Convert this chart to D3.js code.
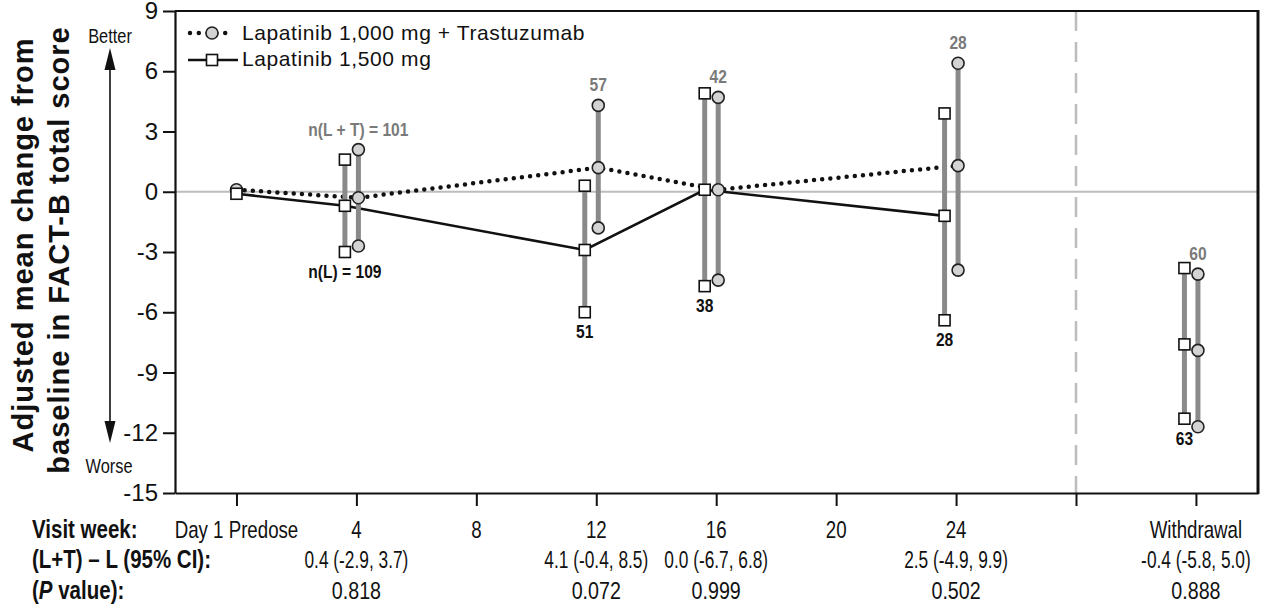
<!DOCTYPE html>
<html>
<head>
<meta charset="utf-8">
<script src="https://cdn.jsdelivr.net/npm/d3@7"></script>
<style>
  body { margin: 0; background: #fff; }
  svg { display: block; }
</style>
</head>
<body>
<svg class="chart"></svg>
<script>
// weeks: 0 = Day 1 predose, 32 = withdrawal slot (after the break at 28)
var visitWeeks = [0, 4, 12, 16, 24, 32];
var tickWeeks = [0, 4, 8, 12, 16, 20, 24, 28, 32];
var tickLabels = ["Day 1 Predose", "4", "8", "12", "16", "20", "24", "", "Withdrawal"];
var yTicks = [9, 6, 3, 0, -3, -6, -9, -12, -15];

// Lapatinib 1,000 mg + Trastuzumab (circles)
var ltMean  = [0.1, -0.3, 1.2, 0.1, 1.3, -7.9];
var ltLower = [null, -2.7, -1.8, -4.4, -3.9, -11.7];
var ltUpper = [null, 2.1, 4.3, 4.7, 6.4, -4.1];
var ltN     = [null, "n(L + T) = 101", "57", "42", "28", "60"];

// Lapatinib 1,500 mg (squares)
var lMean  = [-0.1, -0.7, -2.9, 0.1, -1.2, -7.6];
var lLower = [null, -3.0, -6.0, -4.7, -6.4, -11.3];
var lUpper = [null, 1.6, 0.3, 4.9, 3.9, -3.8];
var lN     = [null, "n(L) = 109", "51", "38", "28", "63"];

var diffWeeks = [4, 12, 16, 24, 32];
var diffCI = ["0.4 (-2.9, 3.7)", "4.1 (-0.4, 8.5)", "0.0 (-6.7, 6.8)", "2.5 (-4.9, 9.9)", "-0.4 (-5.8, 5.0)"];
var pValues = ["0.818", "0.072", "0.999", "0.502", "0.888"];

var W = 1271, H = 612;
var pLeft = 175, pRight = 1258, pTop = 11, pBottom = 493;
var REG = "'Liberation Sans', Arial, sans-serif";
var NAR = "'Liberation Sans Narrow', 'Arial Narrow', sans-serif";

var svg = d3.select(".chart").attr("width", W).attr("height", H);

var x = d3.scaleLinear().domain([-2.05, 34.07]).range([pLeft, pRight]);
var y = d3.scaleLinear().domain([-15, 9]).range([pBottom, pTop]);

// check whether a narrow face exists; otherwise squeeze regular text
var probe = svg.append("text").style("font-family", NAR).style("font-size", "24px").text("Day 1 Predose");
var wNar = probe.node().getComputedTextLength();
probe.style("font-family", REG);
var wReg = probe.node().getComputedTextLength();
probe.remove();
var squeeze = (wNar / wReg > 0.9) ? 0.82 : 1;

function narrowText(g, px, py, str, size, weight, anchor, fill, hscale) {
	var k = squeeze * (hscale || 1);
	var t = g.append("text")
		.attr("transform", "translate(" + px + "," + py + ")" + (k < 1 ? " scale(" + k + ",1)" : ""))
		.style("font-family", NAR)
		.style("font-size", size + "px")
		.style("font-weight", weight)
		.attr("text-anchor", anchor)
		.attr("fill", fill || "#111");
	if (str !== null) t.text(str);
	return t;
}

var sqOff = -11.5, ciOff = 2;
function cx(w, i) { return x(w) + (i === 0 ? 0 : ciOff); }
function sx(w, i) { return x(w) + (i === 0 ? 0 : sqOff); }

// zero reference line
svg.append("line")
	.attr("x1", pLeft).attr("x2", pRight)
	.attr("y1", y(0)).attr("y2", y(0))
	.attr("stroke", "#bdbdbd").attr("stroke-width", 2);

// break before withdrawal
svg.append("line")
	.attr("x1", x(28)).attr("x2", x(28))
	.attr("y1", pTop).attr("y2", pBottom)
	.attr("stroke", "#bdbdbd").attr("stroke-width", 2.5)
	.attr("stroke-dasharray", "20,11");

// axes
var yAxis = svg.append("g")
	.attr("transform", "translate(" + pLeft + ",0)")
	.call(d3.axisLeft(y).tickValues(yTicks).tickSize(12).tickSizeOuter(0).tickPadding(5)
		.tickFormat(function(d) { return String(d); }));
yAxis.selectAll("text").style("font-family", REG).style("font-size", "24px").attr("fill", "#111");

var xAxis = svg.append("g")
	.attr("transform", "translate(0," + pBottom + ")")
	.call(d3.axisBottom(x).tickValues(tickWeeks).tickSize(13).tickSizeOuter(0).tickFormat(""));

[yAxis, xAxis].forEach(function(a) {
	a.select(".domain").attr("stroke", "#111").attr("stroke-width", 2.2);
	a.selectAll(".tick line").attr("stroke", "#111").attr("stroke-width", 2);
});

// top and right frame
svg.append("line").attr("x1", pLeft).attr("x2", pRight).attr("y1", pTop).attr("y2", pTop)
	.attr("stroke", "#111").attr("stroke-width", 2.2);
svg.append("line").attr("x1", pRight).attr("x2", pRight).attr("y1", pTop - 1).attr("y2", pBottom + 1)
	.attr("stroke", "#111").attr("stroke-width", 3);

// series lines (withdrawal not connected)
var idx = d3.range(0, 5);
var ltLine = d3.line().x(function(i) { return cx(visitWeeks[i], i); }).y(function(i) { return y(ltMean[i]); });
var lLine = d3.line().x(function(i) { return sx(visitWeeks[i], i); }).y(function(i) { return y(lMean[i]); });

svg.append("path").attr("d", ltLine(idx))
	.attr("fill", "none").attr("stroke", "#111").attr("stroke-width", 4.5)
	.attr("stroke-linecap", "round").attr("stroke-dasharray", "0 8.2");
svg.append("path").attr("d", lLine(idx))
	.attr("fill", "none").attr("stroke", "#111").attr("stroke-width", 2.6);

// error bars
var ciIdx = d3.range(1, visitWeeks.length);
svg.selectAll(".barL").data(ciIdx).enter().append("line")
	.attr("x1", function(i) { return sx(visitWeeks[i], i); })
	.attr("x2", function(i) { return sx(visitWeeks[i], i); })
	.attr("y1", function(i) { return y(lLower[i]); })
	.attr("y2", function(i) { return y(lUpper[i]); })
	.attr("stroke", "#8a8a8a").attr("stroke-width", 5);
svg.selectAll(".barLT").data(ciIdx).enter().append("line")
	.attr("x1", function(i) { return cx(visitWeeks[i], i); })
	.attr("x2", function(i) { return cx(visitWeeks[i], i); })
	.attr("y1", function(i) { return y(ltLower[i]); })
	.attr("y2", function(i) { return y(ltUpper[i]); })
	.attr("stroke", "#8a8a8a").attr("stroke-width", 5);

// markers
function circleAt(g, px, py) {
	g.append("circle").attr("cx", px).attr("cy", py).attr("r", 6)
		.attr("fill", "#d3d3d3").attr("stroke", "#222").attr("stroke-width", 1.6);
}
function squareAt(g, px, py) {
	g.append("rect").attr("x", px - 5.5).attr("y", py - 5.5).attr("width", 11).attr("height", 11)
		.attr("fill", "#fff").attr("stroke", "#111").attr("stroke-width", 1.6);
}

var marks = svg.append("g");
visitWeeks.forEach(function(w, i) {
	var pts = [ltMean[i]];
	if (i > 0) pts.push(ltLower[i], ltUpper[i]);
	pts.forEach(function(v) { circleAt(marks, cx(w, i), y(v)); });
});
visitWeeks.forEach(function(w, i) {
	var pts = [lMean[i]];
	if (i > 0) pts.push(lLower[i], lUpper[i]);
	pts.forEach(function(v) { squareAt(marks, sx(w, i), y(v)); });
});

// n labels
var labels = svg.append("g");
ciIdx.forEach(function(i) {
	narrowText(labels, cx(visitWeeks[i], i), y(ltUpper[i]) - 14, ltN[i], 19, "bold", "middle", "#7a7a7a");
	narrowText(labels, sx(visitWeeks[i], i), y(lLower[i]) + 26, lN[i], 19, "bold", "middle", "#111");
});

// legend
var leg = svg.append("g");
leg.append("line").attr("x1", 190).attr("x2", 234).attr("y1", 33).attr("y2", 33)
	.attr("stroke", "#111").attr("stroke-width", 4.5).attr("stroke-linecap", "round").attr("stroke-dasharray", "0 8.8");
circleAt(leg, 212, 33);
leg.append("line").attr("x1", 188).attr("x2", 238).attr("y1", 60).attr("y2", 60)
	.attr("stroke", "#111").attr("stroke-width", 2.6);
squareAt(leg, 212, 60);
leg.selectAll("text").data(["Lapatinib 1,000 mg + Trastuzumab", "Lapatinib 1,500 mg"]).enter().append("text")
	.attr("x", 242).attr("y", function(d, i) { return 40 + i * 26; })
	.style("font-family", REG).style("font-size", "21px").style("letter-spacing", "0.6px")
	.attr("fill", "#111").text(function(d) { return d; });

// y axis title
var yt = svg.append("text")
	.attr("transform", "rotate(-90)")
	.style("font-family", REG).style("font-size", "29px").style("font-weight", "bold")
	.style("letter-spacing", "1px")
	.attr("text-anchor", "middle").attr("fill", "#111");
yt.append("tspan").attr("x", -245).attr("y", 33).text("Adjusted mean change from");
yt.append("tspan").attr("x", -250).attr("y", 69).text("baseline in FACT-B total score");

// better / worse arrow
svg.append("line").attr("x1", 110).attr("x2", 110).attr("y1", 62).attr("y2", 430)
	.attr("stroke", "#111").attr("stroke-width", 1.6);
svg.append("path").attr("d", "M110,48 L104.5,70 L115.5,70 Z").attr("fill", "#111");
svg.append("path").attr("d", "M110,443 L104.5,421 L115.5,421 Z").attr("fill", "#111");
narrowText(svg, 110, 43, "Better", 20, "normal", "middle");
narrowText(svg, 109, 473, "Worse", 20, "normal", "middle");

// table under the x axis
var tbl = svg.append("g");
var rowY = [538, 568, 599];
narrowText(tbl, 32, rowY[0], "Visit week:", 25, "bold", "start");
narrowText(tbl, 32, rowY[1], "(L+T) \u2013 L (95% CI):", 25, "bold", "start");
var pv = narrowText(tbl, 32, rowY[2], null, 25, "bold", "start");
pv.append("tspan").text("(");
pv.append("tspan").style("font-style", "italic").text("P");
pv.append("tspan").text(" value):");

tickWeeks.forEach(function(w, i) {
	if (tickLabels[i]) narrowText(tbl, x(w), rowY[0], tickLabels[i], 24, "normal", "middle", "#111", 0.95);
});
diffWeeks.forEach(function(w, i) {
	narrowText(tbl, x(w), rowY[1], diffCI[i], 24, "normal", "middle", "#111", 0.88);
	narrowText(tbl, x(w), rowY[2], pValues[i], 24, "normal", "middle");
});
</script>
</body>
</html>
